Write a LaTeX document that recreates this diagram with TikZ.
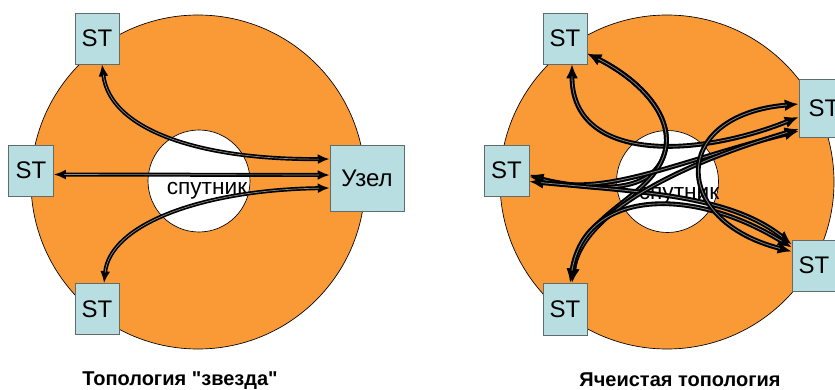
\documentclass[tikz,border=0pt]{standalone}
\usepackage{fontspec}
\setmainfont{Liberation Sans}[Ligatures=TeXOff]
\usetikzlibrary{arrows.meta,calc}
\definecolor{discorange}{RGB}{249,154,54}
\definecolor{stationblue}{RGB}{185,222,225}
\definecolor{boxgray}{RGB}{95,108,108}

\tikzset{
  station/.style={draw=boxgray, fill=stationblue, inner sep=0pt,
    minimum width=33pt, minimum height=38.25pt, font=\fontsize{18}{18}\selectfont},
  % double channel: a heavy black line with a thin light core
  link/.style={draw=black, line width=3pt,
    {Latex[length=9pt,width=7.5pt]}-{Latex[length=9pt,width=7.5pt]},
    postaction={draw=white!55!black, line width=0.5pt, shorten <=8pt, shorten >=8pt, arrows=-}},
  meshlink/.style={draw=black, line width=3.6pt,
    {Latex[length=10.5pt,width=9pt]}-{Latex[length=10.5pt,width=9pt]},
    postaction={draw=white!50!black, line width=0.6pt, shorten <=9pt, shorten >=9pt, arrows=-}},
  satlabel/.style={anchor=base, font=\fontsize{17}{17}\selectfont},
  caption/.style={anchor=base, font=\bfseries\fontsize{15}{15}\selectfont}
}

\begin{document}
\begin{tikzpicture}[x=0.75pt, y=-0.75pt]
    \useasboundingbox (0,0) rectangle (835,389);

    % star: discs and satellite
    \filldraw[fill=discorange, draw=black, line width=0.5pt] (198,182) circle[radius=167];
    \filldraw[fill=white, draw=black, line width=0.5pt] (199,181) circle[radius=51];
    \node[satlabel] (sat1) at (207,194) {спутник};
    \node[station] (st1) at (97,38.5) {ST};
    \node[station, minimum width=33.75pt] (st2) at (31,170.5) {ST};
    \node[station] (st3) at (97,309) {ST};
    \node[station, minimum width=55.5pt, minimum height=49.5pt] (hub) at (367,178) {Узел};
    \draw[link] ($(st1.south)+(5,0)$) .. controls (110,130) and (200,160) .. ($(hub.west)+(0,-19)$);
    \draw[link] ($(st2.east)+(0,4)$) -- ($(hub.west)+(0,-3)$);
    \draw[link] ($(st3.north)+(7,0)$) .. controls (110,225) and (200,190) .. ($(hub.west)+(0,10)$);
    \node[caption] (title1) at (180,385) {Топология "звезда"};

    % mesh: discs and satellite
    \filldraw[fill=discorange, draw=black, line width=0.5pt] (667,182) circle[radius=167];
    \filldraw[fill=white, draw=black, line width=0.5pt] (667.5,181.5) circle[radius=51];
    \node[satlabel] (sat2) at (679,199) {спутник};
    \node[station] (mt) at (565,38.5) {ST};
    \node[station, minimum width=33.75pt] (ml) at (506.5,170.5) {ST};
    \node[station, minimum height=39pt] (mb) at (565,309) {ST};
    \node[station, minimum width=37.5pt, minimum height=43.5pt] (mr1) at (824,108) {ST};
    \node[station] (mr2) at (814,265.5) {ST};

    \draw[meshlink] ($(mt.south)+(7,0)$) .. controls (572,160) and (690,160) .. ($(mr1.west)+(0,9)$);
    \draw[meshlink] ($(mt.east)+(0,15)$) .. controls (640,80) and (680,120) .. (662,160)
        .. controls (645,195) and (590,190) .. ($(ml.east)+(0,6)$);
    \draw[meshlink] ($(mt.east)+(0,15)$) .. controls (640,80) and (680,120) .. (662,160)
        .. controls (645,200) and (580,215) .. ($(mb.north)+(7,0)$);
    \draw[meshlink] ($(ml.east)+(0,4)$) .. controls (600,200) and (680,160) .. ($(mr1.west)+(0,23)$);
    \draw[meshlink] ($(ml.east)+(0,11)$) .. controls (640,192) and (730,195) .. ($(mr2.west)+(0,-21)$);
    \draw[meshlink] ($(mb.north)+(7,0)$) .. controls (580,220) and (660,170) .. ($(mr1.west)+(0,21)$);
    \draw[meshlink] ($(mb.north)+(5,0)$) .. controls (585,190) and (690,185) .. ($(mr2.west)+(0,-18)$);
    \draw[meshlink] ($(mr1.west)+(0,-4)$) .. controls (670,115) and (670,220) .. ($(mr2.west)+(0,-14)$);
    \node[caption] (title2) at (680,386) {Ячеистая топология};
\end{tikzpicture}
\end{document}
